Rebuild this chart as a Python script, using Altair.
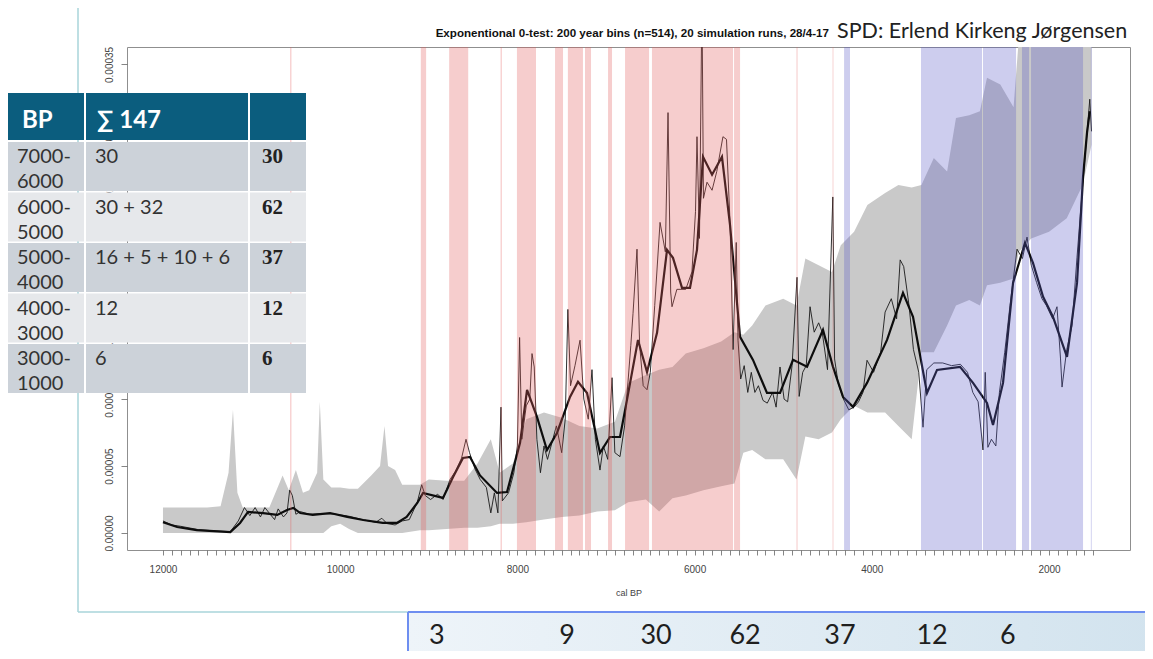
import altair as alt
import pandas as pd

# ---------------- data (values in units of 1e-5) ----------------
thick_years = [12000, 11840, 11620, 11240, 11130, 11040, 10870, 10710, 10600, 10530,
               10450, 10310, 10115, 9920, 9740, 9520, 9360, 9250, 9130, 9065,
               8840, 8726, 8614, 8535, 8422, 8230, 8117, 7970, 7891, 7779,
               7666, 7553, 7406, 7316, 7214, 7068, 6955, 6842, 6763, 6639,
               6537, 6424, 6311, 6244, 6142, 6052, 5973, 5905, 5803, 5691,
               5600, 5487, 5341, 5183, 5036, 4889, 4731, 4551, 4438, 4325,
               4212, 4054, 3828, 3648, 3535, 3377, 3264, 3004, 2858, 2700,
               2632, 2519, 2406, 2271, 2181, 2067, 1955, 1797, 1684, 1616,
               1571, 1540]
thick_e5 = [0.8, 0.45, 0.22, 0.07, 0.75, 1.57, 1.49, 1.35, 1.72, 1.87,
            1.49, 1.35, 1.49, 1.2, 0.97, 0.75, 0.75, 1.2, 2.24, 2.99,
            2.62, 4.19, 5.6, 5.68, 4.3, 2.99, 3.06, 6.73, 10.69, 8.67,
            6.2, 7.47, 10.16, 11.29, 10.46, 5.98, 7.17, 7.17, 9.94, 14.42,
            12.03, 14.95, 21.15, 20.55, 18.31, 18.31, 21.15, 28.1, 26.76, 28.1,
            23.0, 14.65, 12.93, 10.46, 10.46, 12.93, 12.41, 15.17, 12.41, 10.16,
            9.42, 11.21, 14.42, 17.94, 16.14, 10.46, 12.18, 12.41, 11.21, 9.72,
            8.07, 11.21, 18.68, 21.67, 20.18, 17.64, 16.14, 13.15, 18.68, 26.6,
            29.9, 31.5]

thin_years = [12000, 11900, 11800, 11600, 11400, 11240, 11150, 11080, 11020, 10960,
              10900, 10850, 10790, 10740, 10700, 10640, 10600, 10570, 10540, 10500,
              10450, 10350, 10200, 10050, 9900, 9750, 9600, 9530, 9470, 9380,
              9300, 9220, 9130, 9080, 9040, 8980, 8900, 8840, 8760, 8700,
              8630, 8580, 8540, 8480, 8420, 8350, 8300, 8260, 8220, 8185,
              8170, 8100, 8040, 8000, 7975, 7950, 7900, 7860, 7835, 7810,
              7780, 7740, 7700, 7660, 7600, 7560, 7500, 7460, 7430, 7400,
              7350, 7293, 7250, 7200, 7158, 7120, 7068, 7030, 6980, 6932,
              6900, 6842, 6790, 6720, 6695, 6650, 6620, 6580, 6537, 6500,
              6450, 6390, 6330, 6300, 6270, 6255, 6200, 6100, 6030, 5990,
              5973, 5945, 5917, 5900, 5860, 5803, 5750, 5680, 5640, 5600,
              5566, 5530, 5510, 5480, 5440, 5400, 5360, 5320, 5280, 5228,
              5180, 5120, 5080, 5036, 4990, 4950, 4900, 4844, 4820, 4780,
              4740, 4697, 4650, 4600, 4560, 4500, 4440, 4420, 4380, 4320,
              4260, 4200, 4150, 4100, 4054, 3980, 3900, 3850, 3780, 3720,
              3680, 3640, 3580, 3530, 3470, 3422, 3380, 3300, 3200, 3100,
              3000, 2920, 2860, 2800, 2745, 2720, 2690, 2650, 2600, 2560,
              2500, 2440, 2361, 2300, 2248, 2200, 2140, 2080, 2030, 1960,
              1910, 1870, 1853, 1800, 1740, 1684, 1620, 1571, 1540, 1520]
thin_e5 = [0.9, 0.6, 0.5, 0.25, 0.15, 0.1, 0.9, 1.9, 1.3, 1.9,
           1.2, 1.9, 1.4, 1.0, 1.8, 1.2, 1.5, 3.2, 2.8, 1.4,
           1.6, 1.4, 1.45, 1.4, 1.25, 1.0, 0.8, 1.1, 0.7, 0.6,
           0.9, 1.0, 2.3, 3.6, 2.8, 2.5, 2.9, 2.5, 4.0, 4.6,
           5.6, 7.0, 6.0, 4.8, 4.0, 3.4, 1.5, 3.0, 1.5, 9.4,
           2.4, 3.0, 4.5, 6.5, 14.6, 7.0, 9.5, 10.0, 13.4, 12.4,
           7.0, 4.5, 6.5, 5.5, 7.0, 8.0, 6.0, 8.5, 16.7, 11.0,
           12.5, 14.4, 10.0, 8.5, 12.2, 7.0, 4.7, 6.5, 5.5, 11.6,
           6.0, 5.7, 8.0, 14.0, 16.4, 21.2, 14.0, 11.0, 10.7, 12.0,
           17.0, 23.2, 21.0, 31.4, 18.0, 16.9, 18.2, 18.2, 19.5, 24.0,
           29.6, 22.0, 40.0, 25.0, 26.2, 25.6, 27.0, 29.6, 29.4, 23.2,
           13.7, 21.7, 14.4, 11.5, 12.5, 10.5, 12.0, 10.5, 11.0, 9.9,
           9.7, 10.5, 9.4, 12.4, 10.0, 9.8, 12.5, 19.1, 10.2, 12.0,
           12.5, 16.9, 15.0, 15.7, 15.0, 12.2, 25.1, 13.0, 11.2, 10.0,
           9.2, 9.4, 9.8, 10.5, 12.9, 12.0, 13.5, 16.5, 17.5, 16.0,
           20.4, 19.9, 17.0, 13.7, 12.0, 7.9, 12.2, 12.7, 12.7, 12.5,
           12.6, 12.0, 10.5, 9.8, 6.2, 12.0, 6.4, 7.0, 6.5, 10.5,
           13.5, 17.0, 21.2, 20.5, 22.1, 20.0, 18.7, 17.5, 17.0, 16.0,
           16.9, 13.0, 10.9, 13.7, 15.5, 20.6, 26.0, 29.9, 32.4, 30.0]

env_years = [12000, 11500, 11350, 11260, 11210, 11160, 11100, 10800, 10700, 10650,
             10580, 10500, 10420, 10350, 10260, 10230, 10190, 10100, 10000, 9900,
             9800, 9650, 9550, 9500, 9460, 9380, 9300, 9100, 9000, 8800,
             8600, 8450, 8300, 8200, 8050, 7900, 7700, 7500, 7300, 7100,
             6900, 6750, 6550, 6400, 6250, 6100, 5900, 5700, 5550, 5450,
             5350, 5200, 5000, 4850, 4750, 4600, 4450, 4350, 4200, 4050,
             3850, 3700, 3550, 3440, 3300, 3150, 3050, 2900, 2780, 2700,
             2550, 2400, 2340, 2200, 2000, 1800, 1620, 1520]
env_lo_e5 = [0, 0, 0, 0, 0, 0, 0, 0, 0, 0,
             0, 0, 0, 0, 0, 0, 0, 0.5, 0.7, 0.3,
             0, 0, 0, 0, 0, 0, 0, 0.2, 0.2, 0.3,
             0.4, 0.4, 0.5, 0.7, 0.7, 0.8, 1.0, 1.2, 1.3, 1.6,
             1.7, 2.3, 2.5, 1.6, 2.6, 2.8, 3.2, 3.5, 3.7, 6.0,
             6.2, 5.5, 5.5, 4.0, 7.2, 7.0, 7.5, 8.5, 9.5, 9.0,
             9.0, 8.0, 7.0, 13.5, 13.5, 15.5, 17.0, 17.4, 17.0, 18.5,
             18.7, 19.0, 21.0, 22.0, 22.5, 23.5, 26.0, 29.0]
env_hi_e5 = [1.9, 1.9, 2.0, 4.5, 9.2, 3.0, 1.9, 1.9, 3.5, 4.3,
             3.2, 4.7, 3.0, 3.2, 4.5, 9.8, 4.0, 3.4, 3.4, 3.3,
             3.3, 4.3, 5.0, 8.0, 5.0, 4.7, 3.6, 3.6, 4.0, 3.9,
             3.9, 5.2, 7.0, 4.5, 5.2, 8.5, 9.0, 8.6, 8.0, 7.8,
             8.3, 11.2, 11.8, 12.2, 12.4, 13.4, 13.8, 14.3, 15.0, 14.8,
             15.5, 17.0, 17.5, 17.0, 20.5, 20.0, 19.5, 21.5, 22.5, 24.5,
             25.4, 26.0, 25.8, 26.0, 28.0, 27.0, 31.0, 31.2, 31.5, 34.0,
             33.5, 31.8, 37.0, 37.0, 37.0, 37.0, 37.0, 37.0]

red_from = [10565, 9090, 8770, 8190, 8005, 7575, 7430, 7237, 6977, 6785, 6481, 5555, 4850, 4443]
red_to = [10550, 9030, 8555, 8175, 7790, 7485, 7260, 7169, 6932, 6514, 5566, 5487, 4838, 4433]
blue_from = [4313, 3445, 2745, 2305, 2203, 1528]
blue_to = [4246, 2756, 2372, 2225, 1616, 1518]

x_ticks = list(range(1500, 12001, 100))
x_label_step = 2000
y_ticks_e5 = [0, 5, 10, 15, 20, 25, 30, 35]

title_left = "Exponentional 0-test: 200 year bins (n=514), 20 simulation runs, 28/4-17"
title_right = "SPD: Erlend Kirkeng Jørgensen"
x_title = "cal BP"

table_head = ["BP", "∑ 147"]
table_bp = ["7000-\n6000", "6000-\n5000", "5000-\n4000", "4000-\n3000", "3000-\n1000"]
table_sum = ["30", "30 + 32", "16 + 5 + 10 + 6", "12", "6"]
table_total = ["30", "62", "37", "12", "6"]

count_years = [8910, 7440, 6435, 5430, 4360, 3320, 2465]
count_labels = ["3", "9", "30", "62", "37", "12", "6"]

# ---------------- tables ----------------
E5 = 1e-5
thick_df = pd.DataFrame({"year": thick_years, "v": [v * E5 for v in thick_e5]})
thin_df = pd.DataFrame({"year": thin_years, "v": [v * E5 for v in thin_e5]})
env_df = pd.DataFrame({"year": env_years,
                       "lo": [v * E5 for v in env_lo_e5],
                       "hi": [v * E5 for v in env_hi_e5]})
red_df = pd.DataFrame({"a": red_from, "b": red_to})
blue_df = pd.DataFrame({"a": blue_from, "b": blue_to})
count_df = pd.DataFrame({"year": count_years, "label": count_labels})
one = pd.DataFrame({"k": [0]})

# ---------------- layout ----------------
OX, OY = 127, 47          # page position of the plot box
W, H = 1003, 503
SVG_W, SVG_H = 1137, 643
AXF = "Liberation Sans"
BODYF = "Lato"

xscale = alt.Scale(domain=[12406, 1086], zero=False, nice=False)
yscale = alt.Scale(domain=[-1.27e-5, 36.3e-5], zero=False, nice=False)

xaxis = alt.Axis(values=x_ticks, format="d",
                 labelExpr=f"datum.value % {x_label_step} === 0 ? datum.label : ''",
                 labelOverlap=False, labelFlush=False, labelBound=False,
                 labelFont=AXF, labelFontSize=10, labelColor="#444444", labelPadding=9,
                 tickSize=5, tickColor="#666666", tickWidth=0.8,
                 domain=False, grid=False,
                 title=x_title, titleFont=AXF, titleFontSize=9, titleFontWeight="normal",
                 titleColor="#444444", titlePadding=14)
yaxis = alt.Axis(values=[v * E5 for v in y_ticks_e5], format=".5f",
                 labelAngle=270, labelAlign="center", labelBaseline="bottom",
                 labelFont=AXF, labelFontSize=10, labelColor="#444444", labelPadding=7,
                 labelOverlap=False,
                 tickSize=6, tickColor="#666666", tickWidth=0.8,
                 domain=False, grid=False, title=None)


def X(f):
    return alt.X(f"{f}:Q", scale=xscale, axis=xaxis)


def Y(f):
    return alt.Y(f"{f}:Q", scale=yscale, axis=yaxis)


def box(x0, y0, x1, y1, **mk):
    return alt.Chart(one).mark_rect(**mk).encode(
        x=alt.value(x0 - OX), x2=alt.value(x1 - OX),
        y=alt.value(y0 - OY), y2=alt.value(y1 - OY))


def rule(x0, y0, x1, y1, **mk):
    return alt.Chart(one).mark_rule(**mk).encode(
        x=alt.value(x0 - OX), x2=alt.value(x1 - OX),
        y=alt.value(y0 - OY), y2=alt.value(y1 - OY))


def txt(x, y, s, **mk):
    return alt.Chart(one).mark_text(**mk).encode(
        x=alt.value(x - OX), y=alt.value(y - OY), text=alt.value(s))


layers = []

# slide frame
layers.append(rule(78, 0, 78, 612, color="#A9D5DA", strokeWidth=1.5))
layers.append(rule(78, 612, 408, 612, color="#A9D5DA", strokeWidth=1.5))

# envelope, lines, bands
layers.append(alt.Chart(env_df).mark_area(color="#C9C9C9", clip=True).encode(
    x=X("year"), y=Y("lo"), y2="hi:Q"))
layers.append(alt.Chart(thin_df).mark_line(color="#1a1a1a", strokeWidth=0.9, clip=True).encode(
    x=X("year"), y=Y("v")))
layers.append(alt.Chart(thick_df).mark_line(color="#0d0d0d", strokeWidth=2.2, clip=True).encode(
    x=X("year"), y=Y("v")))
layers.append(alt.Chart(red_df).mark_rect(color="#E05A5A", opacity=0.3).encode(
    x=X("a"), x2="b:Q", y=alt.value(0), y2=alt.value(H)))
layers.append(alt.Chart(blue_df).mark_rect(color="#5A5AC8", opacity=0.3).encode(
    x=X("a"), x2="b:Q", y=alt.value(0), y2=alt.value(H)))

# titles
layers.append(txt(829, 37, title_left, font=AXF, fontSize=11.6, fontWeight="bold",
                  color="#111111", align="right", baseline="alphabetic"))
layers.append(txt(837, 38, title_right, font=BODYF, fontSize=21.5, color="#222222",
                  align="left", baseline="alphabetic"))

# table overlay
HEAD = "#0B5D7E"
DARK, LIGHT = "#CCD2D9", "#E6E8EB"
cols = [(8, 84), (86, 248), (250, 306)]
for c0, c1 in cols:
    layers.append(box(c0, 93, c1, 140, color=HEAD))
layers.append(txt(22, 128, table_head[0], font=BODYF, fontSize=24, fontWeight="bold",
                  color="white", align="left", baseline="alphabetic"))
layers.append(txt(97, 128, table_head[1], font=BODYF, fontSize=24, fontWeight="bold",
                  color="white", align="left", baseline="alphabetic"))
for i in range(len(table_bp)):
    top = 142 + 50.5 * i
    bot = top + 49
    fill = DARK if i % 2 == 0 else LIGHT
    for c0, c1 in cols:
        layers.append(box(c0, top, c1, bot, color=fill))
    layers.append(txt(17, top + 21, table_bp[i], font=BODYF, fontSize=20, color="#333333",
                      align="left", baseline="alphabetic", lineBreak="\n", lineHeight=25))
    layers.append(txt(95, top + 21, table_sum[i], font=BODYF, fontSize=20, color="#333333",
                      align="left", baseline="alphabetic"))
    layers.append(txt(262, top + 21, table_total[i], font="Liberation Serif", fontSize=21,
                      fontWeight="bold", color="#222222", align="left", baseline="alphabetic"))

# bottom count box
grad = alt.LinearGradient(gradient="linear",
                          stops=[alt.GradientStop(offset=0, color="#EEF4F9"),
                                 alt.GradientStop(offset=1, color="#D2E3EE")],
                          x1=0, x2=1, y1=0, y2=0)
layers.append(box(408, 612, 1160, 670, color=grad))
layers.append(rule(408, 612, 1160, 612, color="#6E8EF0", strokeWidth=2))
layers.append(rule(408, 612, 408, 670, color="#6E8EF0", strokeWidth=2))
layers.append(alt.Chart(count_df).mark_text(font=BODYF, fontSize=27, color="#1f1f1f",
                                            align="center", baseline="middle").encode(
    x=X("year"), y=alt.value(636 - OY), text="label:N"))

chart = alt.layer(*layers).properties(
    width=W, height=H,
    padding={"left": OX - 8, "top": OY - 8,
             "right": SVG_W - (OX - 8) - W, "bottom": SVG_H - (OY - 8) - H},
    autosize=alt.AutoSizeParams(type="none"),
    background="white",
).configure_view(stroke="#8f8f8f", strokeWidth=1)

chart.save("out.html", embed_options={"renderer": "svg", "actions": False})
